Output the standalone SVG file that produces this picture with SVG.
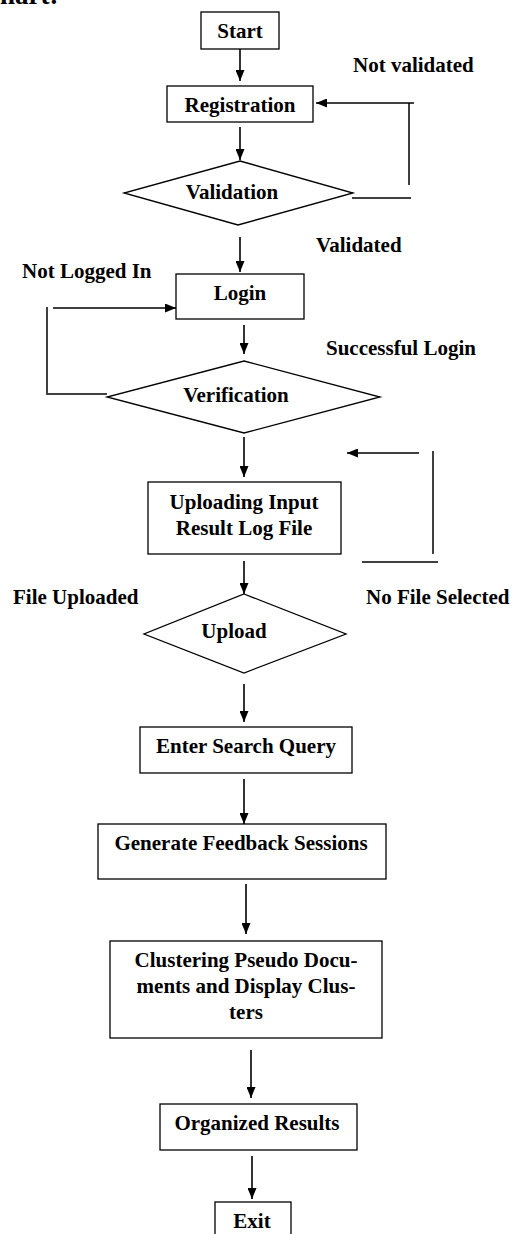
<svg xmlns="http://www.w3.org/2000/svg" width="512" height="1234" viewBox="0 0 512 1234">
<style>
text{font-family:"Liberation Serif","Times New Roman",serif;font-weight:bold;font-size:21px;fill:#000}
.c{text-anchor:middle}
.box{fill:#fff;stroke:#000;stroke-width:1.3}
.ln{fill:none;stroke:#000;stroke-width:1.5}
.ar{fill:none;stroke:#000;stroke-width:1.6;marker-end:url(#ah)}
</style>
<defs>
<marker id="ah" viewBox="0 0 11 9" refX="11" refY="4.5" markerWidth="11" markerHeight="9" markerUnits="userSpaceOnUse" orient="auto">
<path d="M0,0 L11,4.5 L0,9 z" fill="#000"/>
</marker>
</defs>
<rect width="512" height="1234" fill="#fff"/>
<text x="0" y="4" style="font-size:27px">hart:</text>

<g id="connectors">
<line class="ar" x1="240" y1="49" x2="240" y2="81"/>
<line class="ar" x1="240" y1="127" x2="240" y2="160"/>
<line class="ar" x1="414" y1="103" x2="316" y2="103"/>
<line class="ln" x1="409" y1="103" x2="409" y2="185"/>
<line class="ln" x1="352" y1="198" x2="411" y2="198"/>
<line class="ar" x1="240" y1="237" x2="240" y2="272"/>
<line class="ar" x1="53" y1="308" x2="176" y2="308"/>
<line class="ln" x1="47" y1="307" x2="47" y2="393"/>
<line class="ln" x1="46" y1="394" x2="107" y2="394"/>
<line class="ar" x1="244" y1="325" x2="244" y2="354"/>
<line class="ar" x1="244" y1="437" x2="244" y2="477"/>
<line class="ar" x1="419" y1="453" x2="347" y2="453"/>
<line class="ln" x1="433" y1="451" x2="433" y2="554"/>
<line class="ln" x1="362" y1="562" x2="438" y2="562"/>
<line class="ar" x1="244" y1="561" x2="244" y2="594"/>
<line class="ar" x1="244" y1="684" x2="244" y2="722"/>
<line class="ar" x1="244" y1="779" x2="244" y2="824"/>
<line class="ar" x1="246" y1="884" x2="246" y2="934"/>
<line class="ar" x1="251" y1="1050" x2="251" y2="1098"/>
<line class="ar" x1="252" y1="1156" x2="252" y2="1199"/>
</g>

<g id="start"><rect class="box" x="201" y="12" width="78" height="37"/><text class="c" x="240" y="38">Start</text></g>
<g id="registration"><rect class="box" x="167" y="86" width="146" height="36"/><text class="c" x="240" y="112">Registration</text></g>
<g id="validation"><polygon class="box" points="240,161 353,193 238,225 124,193"/><text class="c" x="232" y="199">Validation</text></g>
<g id="login"><rect class="box" x="176" y="274" width="128" height="45"/><text class="c" x="240" y="300">Login</text></g>
<g id="verification"><polygon class="box" points="244,361 380,397 244,433 107,397"/><text class="c" x="236" y="402">Verification</text></g>
<g id="uploading"><rect class="box" x="148" y="482" width="193" height="72"/><text class="c" x="244" y="509">Uploading Input</text><text class="c" x="244" y="535">Result Log File</text></g>
<g id="upload"><polygon class="box" points="244,594 346,634 244,673 144,634"/><text class="c" x="234" y="638">Upload</text></g>
<g id="search"><rect class="box" x="140" y="727" width="212" height="46"/><text class="c" x="246" y="753">Enter Search Query</text></g>
<g id="feedback"><rect class="box" x="98" y="824" width="288" height="55"/><text class="c" x="241" y="850">Generate Feedback Sessions</text></g>
<g id="clustering"><rect class="box" x="110" y="941" width="272" height="97"/><text class="c" x="246" y="967">Clustering Pseudo Docu-</text><text class="c" x="246" y="993">ments and Display Clus-</text><text class="c" x="246" y="1019">ters</text></g>
<g id="organized"><rect class="box" x="160" y="1104" width="197" height="46"/><text class="c" x="257" y="1130">Organized Results</text></g>
<g id="exit"><rect class="box" x="215" y="1202" width="76" height="40"/><text class="c" x="252" y="1228">Exit</text></g>

<g id="labels">
<text x="353" y="72">Not validated</text>
<text x="316" y="252">Validated</text>
<text x="22" y="278">Not Logged In</text>
<text x="326" y="355">Successful Login</text>
<text x="13" y="604">File Uploaded</text>
<text x="366" y="604">No File Selected</text>
</g>
</svg>
